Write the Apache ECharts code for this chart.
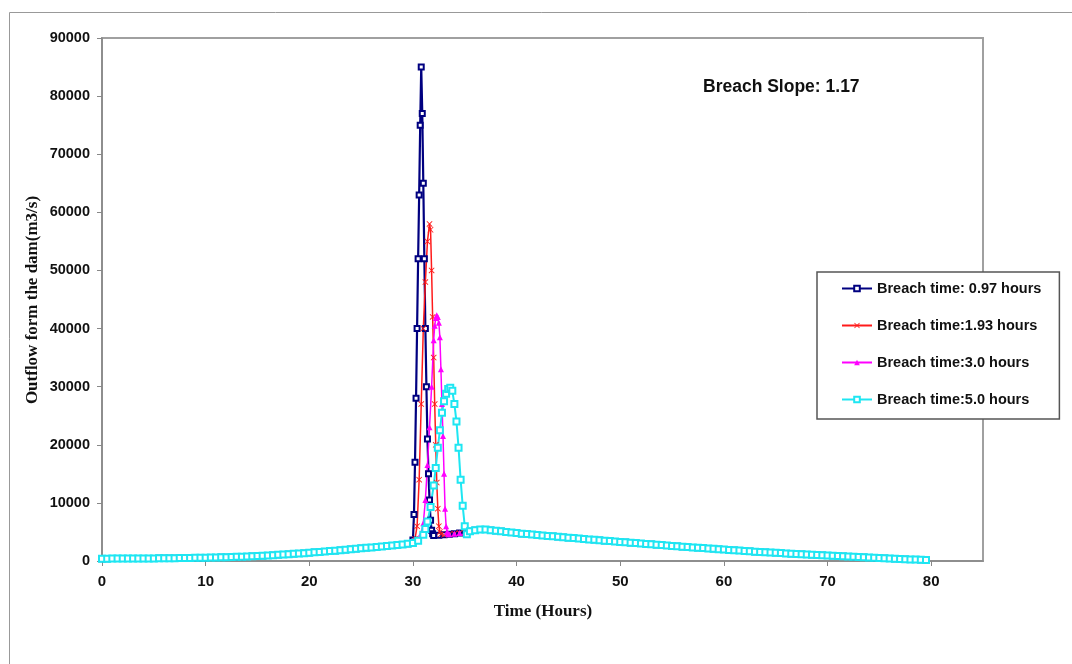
<!DOCTYPE html>
<html>
<head>
<meta charset="utf-8">
<script src="https://cdn.jsdelivr.net/npm/echarts@6/dist/echarts.min.js"></script>
<style>
html,body{margin:0;padding:0;background:#fff;}
#c{width:1072px;height:664px;}
</style>
</head>
<body>
<div id="c"></div>
<script>
// ---- data (time in hours, outflow in m3/s) ----
const seriesNames = ['Breach time: 0.97 hours','Breach time:1.93 hours','Breach time:3.0 hours','Breach time:5.0 hours'];
const xTicks = [0,10,20,30,40,50,60,70,80];
const yTicks = [0,10000,20000,30000,40000,50000,60000,70000,80000,90000];

// common rising limb before the breach
const baseRise = [[0,400],[0.5,400],[1,410],[1.5,410],[2,420],[2.5,420],[3,430],[3.5,430],[4,440],[4.5,450],
[5,450],[5.5,460],[6,470],[6.5,480],[7,490],[7.5,500],[8,510],[8.5,520],[9,540],[9.5,550],
[10,570],[10.5,590],[11,610],[11.5,630],[12,660],[12.5,690],[13,720],[13.5,750],[14,790],[14.5,830],
[15,870],[15.5,910],[16,960],[16.5,1010],[17,1060],[17.5,1110],[18,1170],[18.5,1230],[19,1290],[19.5,1350],
[20,1420],[20.5,1490],[21,1560],[21.5,1630],[22,1700],[22.5,1780],[23,1860],[23.5,1940],[24,2020],[24.5,2100],
[25,2180],[25.5,2260],[26,2340],[26.5,2420],[27,2500],[27.5,2580],[28,2660],[28.5,2740],[29,2820],[29.5,2950]];

// breach peaks
const peak097 = [[30.0,3600],[30.1,8000],[30.2,17000],[30.3,28000],[30.4,40000],[30.5,52000],[30.6,63000],[30.7,75000],
[30.8,85000],[30.9,77000],[31.0,65000],[31.1,52000],[31.2,40000],[31.3,30000],[31.4,21000],[31.5,15000],
[31.6,10500],[31.7,7000],[31.8,5300],[31.9,4700]];
const peak193 = [[30.0,3100],[30.2,3800],[30.4,6000],[30.6,14000],[30.8,27000],[31.0,40000],[31.2,48000],[31.4,55000],
[31.6,58000],[31.7,57000],[31.8,50000],[31.9,42000],[32.0,35000],[32.1,27000],[32.2,20000],[32.3,13500],
[32.4,9000],[32.5,6000],[32.6,5000],[32.7,4600]];
const peak30 = [[30.0,3100],[30.3,3500],[30.6,4000],[30.8,4800],[31.0,6500],[31.2,10500],[31.4,16500],[31.6,23000],
[31.8,30000],[32.0,38000],[32.1,40500],[32.2,41800],[32.3,42300],[32.4,42000],[32.5,41000],[32.6,38500],
[32.7,33000],[32.8,27000],[32.9,21500],[33.0,15000],[33.1,9000],[33.2,6000],[33.3,5000],[33.4,4700]];
const peak50 = [[30.0,3100],[30.5,3500],[31.0,4500],[31.2,5500],[31.4,6800],[31.7,9300],[32.0,13000],[32.2,16000],
[32.4,19500],[32.6,22500],[32.8,25500],[33.0,27500],[33.2,28800],[33.4,29600],[33.6,29800],[33.8,29300],
[34.0,27000],[34.2,24000],[34.4,19500],[34.6,14000],[34.8,9500],[35.0,6000],[35.2,4600]];

// plateau after the breach and common recession limb
const plateau = [[32.0,4400],[32.5,4450],[33.0,4500],[33.5,4600],[34.0,4700],[34.5,4800],[35.0,4900]];
const recession = [[35.5,5100],[36,5300],[36.5,5400],[37,5400],[37.5,5300],[38,5200],[38.5,5100],[39,5000],[39.5,4900],
[40,4800],[40.5,4700],[41,4650],[41.5,4550],[42,4480],[42.5,4400],[43,4320],[43.5,4250],[44,4170],[44.5,4100],
[45,4020],[45.5,3950],[46,3870],[46.5,3800],[47,3720],[47.5,3650],[48,3570],[48.5,3500],[49,3430],[49.5,3360],
[50,3290],[50.5,3220],[51,3150],[51.5,3080],[52,3010],[52.5,2940],[53,2870],[53.5,2800],[54,2740],[54.5,2670],
[55,2600],[55.5,2540],[56,2470],[56.5,2410],[57,2340],[57.5,2280],[58,2220],[58.5,2150],[59,2090],[59.5,2030],
[60,1970],[60.5,1910],[61,1850],[61.5,1790],[62,1730],[62.5,1670],[63,1610],[63.5,1560],[64,1500],[64.5,1460],
[65,1420],[65.5,1360],[66,1300],[66.5,1250],[67,1200],[67.5,1150],[68,1100],[68.5,1060],[69,1020],[69.5,980],
[70,940],[70.5,890],[71,850],[71.5,800],[72,760],[72.5,720],[73,680],[73.5,630],[74,590],[74.5,540],
[75,500],[75.5,460],[76,420],[76.5,380],[77,340],[77.5,300],[78,270],[78.5,240],[79,210],[79.5,180]];

function build(peak){
  const last = peak[peak.length-1][0];
  return baseRise.concat(peak, plateau.filter(p => p[0] > last), recession);
}

const xMark = 'path://M0,1L1,0L5,4L9,0L10,1L6,5L10,9L9,10L5,6L1,10L0,9L4,5Z';

const chart = echarts.init(document.getElementById('c'), null, {renderer:'canvas'});
const labelFont = 'Liberation Sans, Arial, sans-serif';
const serifFont = 'Liberation Serif, Times New Roman, serif';

chart.setOption({
  animation:false,
  backgroundColor:'#fff',
  grid:{left:102, top:38, right:89, bottom:103, show:true, borderColor:'#a0a0a0', borderWidth:2, backgroundColor:'transparent'},
  xAxis:{
    type:'value', min:0, max:85, interval:10,
    axisLine:{show:true, onZero:false, lineStyle:{color:'#888', width:1.5}},
    axisTick:{show:true, inside:false, length:5, lineStyle:{color:'#888'}, customValues:xTicks},
    axisLabel:{margin:13, color:'#111', fontWeight:'bold', fontSize:15, fontFamily:labelFont, customValues:xTicks,
      formatter:v=>String(v)},
    splitLine:{show:false}
  },
  yAxis:{
    type:'value', min:0, max:90000, interval:10000,
    axisLine:{show:true, lineStyle:{color:'#888', width:1.5}},
    axisTick:{show:true, inside:false, length:5, lineStyle:{color:'#888'}},
    axisLabel:{margin:12, color:'#111', fontWeight:'bold', fontSize:14.5, fontFamily:labelFont,
      formatter:v=>String(v)},
    splitLine:{show:false}
  },
  legend:{
    orient:'vertical', left:817, top:272,
    padding:[9,18,12,24],
    itemWidth:30, itemHeight:7, itemGap:22,
    backgroundColor:'#fff', borderColor:'#555', borderWidth:1.5,
    textStyle:{color:'#111', fontWeight:'bold', fontSize:14.5, fontFamily:labelFont},
    data:seriesNames
  },
  graphic:[
    {type:'rect', shape:{x:9.5, y:12.5, width:1100, height:700}, style:{fill:'none', stroke:'#999', lineWidth:1}, silent:true, z:-10},
    {type:'text', x:703, y:87, style:{text:'Breach Slope: 1.17', font:'bold 17.5px '+labelFont, fill:'#111', textVerticalAlign:'middle'}},
    {type:'text', x:543, y:612, style:{text:'Time (Hours)', font:'bold 17px '+serifFont, fill:'#111', textAlign:'center', textVerticalAlign:'middle'}},
    {type:'text', x:33, y:300, rotation:Math.PI/2, style:{text:'Outflow form the dam(m3/s)', font:'bold 17px '+serifFont, fill:'#111', textAlign:'center', textVerticalAlign:'middle'}}
  ],
  series:[
    {name:seriesNames[0], type:'line', data:build(peak097), symbol:'emptyRect', symbolSize:5, showAllSymbol:true,
      lineStyle:{color:'#000080', width:2.2}, itemStyle:{color:'#000080', borderWidth:1.3}},
    {name:seriesNames[1], type:'line', data:build(peak193), symbol:xMark, symbolSize:6, showAllSymbol:true,
      lineStyle:{color:'#ff1a1a', width:1.5}, itemStyle:{color:'#ff1a1a'}},
    {name:seriesNames[2], type:'line', data:build(peak30), symbol:'triangle', symbolSize:6, showAllSymbol:true,
      lineStyle:{color:'#ff00ff', width:1.5}, itemStyle:{color:'#ff00ff'}},
    {name:seriesNames[3], type:'line', data:build(peak50), symbol:'emptyRect', symbolSize:6, showAllSymbol:true,
      lineStyle:{color:'#1ee6f2', width:2}, itemStyle:{color:'#1ee6f2', borderWidth:1.5}}
  ]
});
</script>
</body>
</html>
